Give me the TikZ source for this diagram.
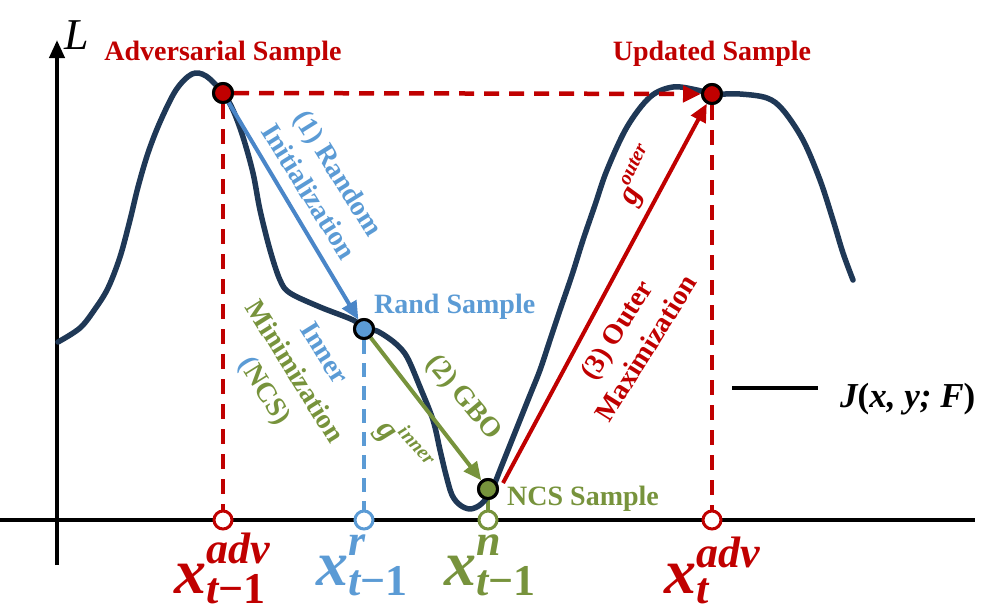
\documentclass[tikz,border=0pt]{standalone}
\usepackage{fontspec}
\setmainfont{Liberation Serif}
\usetikzlibrary{arrows.meta}
\definecolor{cred}{HTML}{C00000}
\definecolor{cblue}{HTML}{5B9BD5}
\definecolor{cblueA}{HTML}{4A86C8}
\definecolor{cgreen}{HTML}{77933C}
\definecolor{cnavy}{HTML}{1F3856}
\newcommand\xlab[3]{{\bfseries\itshape #1}\raisebox{-10pt}{\fontsize{44}{35}\selectfont\bfseries\begin{tabular}[b]{@{}l@{}}\itshape #2\\ #3\end{tabular}}}
\begin{document}
\begin{tikzpicture}[x=1pt,y=-1pt,
  lbl/.style={font=\fontsize{28}{35}\selectfont\bfseries, inner sep=0pt, align=center},
  bigx/.style={font=\fontsize{64}{64}\selectfont, inner sep=0pt},
  dotn/.style={circle, draw=black, line width=3pt, minimum size=19pt, inner sep=0pt},
  ocirc/.style={circle, line width=3pt, fill=white, minimum size=18pt, inner sep=0pt},
  dsh/.style={dash pattern=on 15pt off 10pt, line width=4.5pt},
  arr/.style={line width=4pt, -{Triangle[length=18pt,width=16pt]}},
  axisline/.style={line width=4pt, black}]
\useasboundingbox (0,0) rectangle (996,614);

% axes
\coordinate (yb) at (57,565);
\coordinate (yt) at (57,40);
\coordinate (xl) at (0,520);
\coordinate (xr) at (975,520);
\draw[axisline] (xl) -- (xr);
\draw[axisline, -{Triangle[length=18pt,width=15pt]}] (yb) -- (yt);
\node[font=\fontsize{44}{44}\selectfont\itshape, anchor=base west, inner sep=0pt] (Llab) at (64,49) {L};

% sample points
\node[dotn, fill=cred] (r1) at (223,93) {};
\node[dotn, fill=cred] (r2) at (712,94) {};
\node[dotn, fill=cblue] (b1) at (364,329) {};
\node[dotn, fill=cgreen] (g1) at (488,489) {};

% axis circles
\node[ocirc, draw=cred] (o1) at (223,520) {};
\node[ocirc, draw=cblue] (o2) at (364,520) {};
\node[ocirc, draw=cgreen] (o3) at (488,520) {};
\node[ocirc, draw=cred] (o4) at (712,520) {};

% dashed guides
\draw[dsh, cred] (r1) -- (o1);
\draw[dsh, cred] (r2) -- (o4);
\draw[dsh, cblue, dash pattern=on 14pt off 9pt, line width=4pt] (b1) -- (o2);
\draw[line width=4pt, cgreen] (g1) -- (o3);

% loss curve
\draw[cnavy, line width=5.5pt, line cap=round, line join=round]
  plot[smooth, tension=0.55] coordinates {
  (58,342) (80,328) (95,309) (108,288) (120,257) (130,220) (138,187) (148,153)
  (160,122) (176,90) (192,74) (206,76) (223,93) (233,110) (243,137) (253,173)
  (260,210) (270,250) (280,280) (290,293) (320,307) (353,320) (365,329)
  (377,331) (395,343) (407,357) (420,387) (433,420) (440,450) (446,475)
  (452,495) (460,505) (470,509) (480,505) (488,496) (494,485) (500,470)
  (510,445) (520,420) (530,395) (540,370) (550,340) (560,310) (572,275)
  (583,240) (595,205) (607,170) (627,127) (650,97) (673,87) (697,90)
  (712,94) (740,94) (767,98) (783,110) (803,140) (820,180) (833,220)
  (843,253) (853,280)};

% arrows
\draw[dsh, cred, -{Triangle[length=18pt,width=16pt]}] (r1) -- (r2);
\draw[arr, cblueA] (r1) -- (b1);
\draw[arr, cgreen] (b1) -- (g1);
\coordinate (rs) at (503,483);
\draw[arr, cred] (rs) -- (r2);

% redraw dots on top
\node[dotn, fill=cred] at (r1) {};
\node[dotn, fill=cred] at (r2) {};
\node[dotn, fill=cblue] at (b1) {};
\node[dotn, fill=cgreen] at (g1) {};

% labels
\node[lbl, text=cred, anchor=base] (tadv) at (223,60) {Adversarial Sample};
\node[lbl, text=cred, anchor=base] (tupd) at (712,60) {Updated Sample};
\node[lbl, text=cblue, anchor=base west] (trand) at (374,313) {Rand Sample};
\node[lbl, text=cgreen, anchor=base west] (tncs) at (507,505) {NCS Sample};

\node[lbl, text=cblue, rotate=-58] (t1) at (324,182) {(1) Random\\Initialization};
\node[lbl, rotate=-58] (tinner) at (293,373) {\textcolor{cblue}{Inner}\\\textcolor{cgreen}{Minimization}\\\textcolor{cblue}{(}\textcolor{cgreen}{NCS)}};
\node[lbl, text=cgreen, rotate=-50] (t2) at (463,398) {(2) GBO};
\node[lbl, text=cgreen, rotate=-48, font=\fontsize{32}{32}\selectfont\bfseries\itshape] (ginner) at (404,446) {g\raisebox{0.45em}{\fontsize{20}{20}\selectfont inner}};
\node[lbl, text=cred, rotate=58] (t3) at (631,339) {(3) Outer\\Maximization};
\node[lbl, text=cred, rotate=64, font=\fontsize{32}{32}\selectfont\bfseries\itshape] (gouter) at (639,176) {g\raisebox{0.45em}{\fontsize{20}{20}\selectfont outer}};

% legend
\coordinate (lg1) at (732,388);
\coordinate (lg2) at (818,388);
\draw[line width=4pt, black] (lg1) -- (lg2);
\node[font=\fontsize{35}{35}\selectfont\bfseries\itshape, anchor=base west, inner sep=0pt] (jlab) at (840,407) {J{\upshape(}x, y; F{\upshape)}};

% axis labels
\node[bigx, text=cred, anchor=base] (lx1) at (222,593) {\xlab{x}{adv}{\itshape t\upshape−1}};
\node[bigx, text=cblue, anchor=base] (lx2) at (362,585) {\xlab{x}{r}{\itshape t\upshape−1}};
\node[bigx, text=cgreen, anchor=base] (lx3) at (490,585) {\xlab{x}{n}{\itshape t\upshape−1}};
\node[bigx, text=cred, anchor=base] (lx4) at (712,593) {\xlab{x}{adv}{\itshape t}};
\end{tikzpicture}
\end{document}
